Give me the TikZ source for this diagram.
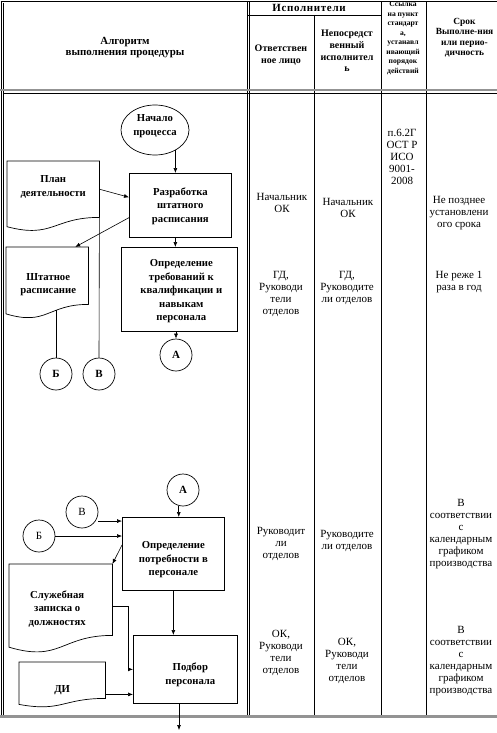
\documentclass[tikz,border=0pt]{standalone}
\usepackage{fontspec}
\setmainfont{Liberation Serif}
\usetikzlibrary{calc,arrows.meta,shapes.geometric}
\newcommand\docout[1]{%
  \draw[shp] let \p1=(#1.north west), \p2=(#1.south east), \n1={\y1-\y2} in
   (\x2,\y2) -- (\x2,\y1) -- (\x1,\y1) -- (\x1,{\y2-0.165*\n1})
   .. controls ({(\x1+\x2)/2},{\y2-0.38*\n1}) and ({(\x1+\x2)/2},\y2) .. (\x2,\y2) -- cycle;}
\tikzset{
 shp/.style={draw=black, line width=0.7pt},
 box/.style={shp, rectangle, inner sep=0pt, anchor=north west},
 docn/.style={rectangle, inner sep=0pt, anchor=north west, draw=none},
 circ/.style={shp, circle, minimum size=32pt, inner sep=0pt, font=\bfseries\fontsize{11}{12}\selectfont},
 circr/.style={circ, font=\fontsize{11}{12}\selectfont},
 ft/.style={font=\bfseries\fontsize{10.7}{13.5}\selectfont, align=center, inner sep=0pt},
 arr/.style={line width=0.6pt, -{Latex[length=5pt,width=4pt]}},
 ln/.style={line width=0.6pt},
 tl/.style={line width=0.7pt, black},
 gl/.style={line width=2.4pt, gray!85},
 hdr/.style={font=\bfseries\fontsize{10}{11.7}\selectfont, align=center, inner sep=0pt},
 hsm/.style={font=\bfseries\fontsize{7.6}{9.5}\selectfont, align=center, inner sep=0pt},
 hsr/.style={font=\bfseries\fontsize{9.4}{10.5}\selectfont, align=center, inner sep=0pt},
 cell/.style={font=\fontsize{11}{12}\selectfont, align=center, inner sep=0pt},
}
\begin{document}
\begin{tikzpicture}[x=1pt,y=-1pt]
\useasboundingbox (0,0) rectangle (497,733);
% ---- table ----
\draw[tl, line width=1pt] (0.5,1.5) -- (497,1.5);
\draw[tl] (1.2,1) -- (1.2,718);
\draw[tl] (3.8,3) -- (3.8,715);
\draw[tl] (247,1.5) -- (247,717);
\draw[tl] (249.5,1.5) -- (249.5,717);
\draw[tl] (248,15) -- (381,15);
\draw[tl] (314,15) -- (314,717);
\draw[tl] (381,1.5) -- (381,717);
\draw[tl] (426,1.5) -- (426,717);
\draw[gl] (0,90) -- (497,90);
\draw[tl, line width=0.5pt] (3.8,93.3) -- (497,93.3);
\draw[gl] (0,716.5) -- (497,716.5);
% ---- header ----
\node[hdr, font=\bfseries\fontsize{10.9}{11.7}\selectfont] (h1) at (125,47.5) {Алгоритм\\выполнения процедуры};
\node[hdr, font=\bfseries\fontsize{11}{11.7}\selectfont\addfontfeature{LetterSpace=6}] (h2) at (309,8) {Исполнители};
\node[hdr] (h3) at (281,55) {Ответствен\\ное лицо};
\node[hdr] (h4) at (347,51) {Непосредст\\венный\\исполнител\\ь};
\node[hsm] (h5) at (403,38) {Ссылка\\на пункт\\стандарт\\а,\\устанавл\\ивающий\\порядок\\действий};
\node[hsr] (h6) at (464.5,37.5) {Срок\\Выполне-ния\\или перио-\\дичность};
% ---- cells ----
\node[cell] (c1) at (282,203) {Начальник\\ОК};
\node[cell] (c2) at (348,207.5) {Начальник\\ОК};
\node[cell] (c3) at (402,157) {п.6.2Г\\ОСТ Р\\ИСО\\9001-\\2008};
\node[cell] (c4) at (459,213) {Не позднее\\установлени\\ого срока};
\node[cell] (c5) at (281,294) {ГД,\\Руководи\\тели\\отделов};
\node[cell] (c6) at (347,288) {ГД,\\Руководите\\ли отделов};
\node[cell] (c7) at (459,282.5) {Не реже 1\\раза в год};
\node[cell] (c8) at (281,544) {Руководит\\ли\\отделов};
\node[cell] (c9) at (347,541) {Руководите\\ли отделов};
\node[cell] (c10) at (461,534) {В\\соответствии\\с\\календарным\\графиком\\производства};
\node[cell] (c11) at (281,652.5) {ОК,\\Руководи\\тели\\отделов};
\node[cell] (c12) at (347,660.5) {ОК,\\Руководи\\тели\\отделов};
\node[cell] (c13) at (461,661) {В\\соответствии\\с\\календарным\\графиком\\производства};
% ---- flowchart upper ----
\node[shp, ellipse, minimum width=68pt, minimum height=50pt, inner sep=0pt,
  label={[ft, yshift=4pt]center:{Начало\\процесса}}] (nach) at (155,130) {};
\node[box, minimum width=102pt, minimum height=64pt,
  label={[ft, yshift=-0.5pt]center:{Разработка\\штатного\\расписания}}] (razr) at (129,173) {};
\node[box, minimum width=116pt, minimum height=84pt,
  label={[ft, xshift=2pt, yshift=-2pt]center:{Определение\\требований к\\квалификации и\\навыкам\\персонала}}] (treb) at (121,247) {};
\node[docn, minimum width=92pt, minimum height=56pt,
  label={[ft, yshift=2.5pt]center:{План\\деятельности}}] (plan) at (7,161) {};
\docout{plan}
\node[docn, minimum width=82pt, minimum height=57pt,
  label={[ft, xshift=1pt, yshift=-9pt]center:{Штатное\\расписание}}] (shtat) at (6,247) {};
\docout{shtat}
\node[circ] (a1) at (176,355) {А};
\node[circ] (b1) at (56,374) {Б};
\node[circ] (v1) at (99,374) {В};
\draw[arr] (nach.-45) -- (nach.-45 |- razr.north);
\coordinate (r1) at ($(razr.south)+(-5,0)$);
\draw[arr] (r1) -- (r1 |- treb.north);
\draw[arr] (a1.north |- treb.south) -- (a1.north);
\draw[arr] (plan.east) -- ($(razr.north west)!0.375!(razr.south west)$);
\draw[arr] ($(razr.north west)!0.69!(razr.south west)$) -- ($(shtat.north west)!0.84!(shtat.north east)$);
\draw[ln] (plan.south east) -- (v1.north);
\draw[ln] ($(b1.north |- shtat.south)+(0,5.5)$) -- (b1.north);
% ---- flowchart lower ----
\node[circ] (a2) at (183,490) {А};
\node[circr] (v2) at (82,512) {В};
\node[circr] (b2) at (39,536) {Б};
\node[box, minimum width=102pt, minimum height=73pt,
  label={[ft, yshift=-6pt]center:{Определение\\потребности в\\персонале}}] (potr) at (122,517) {};
\node[box, minimum width=104pt, minimum height=68pt,
  label={[ft, xshift=5pt, yshift=-5.5pt]center:{Подбор\\персонала}}] (podb) at (133,635) {};
\node[docn, minimum width=103pt, minimum height=71pt,
  label={[ft, xshift=-3.5pt, yshift=-9pt]center:{Служебная\\записка о\\должностях}}] (sluzh) at (9,564) {};
\docout{sluzh}
\node[docn, minimum width=86pt, minimum height=36pt,
  label={[ft, yshift=-10pt]center:{ДИ}}] (di) at (19,662) {};
\docout{di}
\coordinate (a2s) at (a2.-105);
\draw[arr] (a2s) -- (a2s |- potr.north);
\coordinate (pv) at ($(potr.north west)!0.055!(potr.south west)$);
\draw[arr] (v2.east |- pv) -- (pv);
\draw[arr] (b2.east) -- (b2.east -| potr.west);
\draw[arr] ($(potr.north west)!0.38!(potr.south west)$) -- (sluzh.north east);
\draw[arr] ($(sluzh.north east)!0.59!(sluzh.south east)$) -- ++(16,0) |- (podb.west);
\coordinate (dq) at ($(di.north east)!0.89!(di.south east)$);
\draw[arr] (dq) -- (dq -| podb.west);
\draw[arr] (potr.south) -- (potr.south |- podb.north);
\coordinate (fin) at (179,730);
\draw[arr] (fin |- podb.south) -- (fin);
\end{tikzpicture}
\end{document}
